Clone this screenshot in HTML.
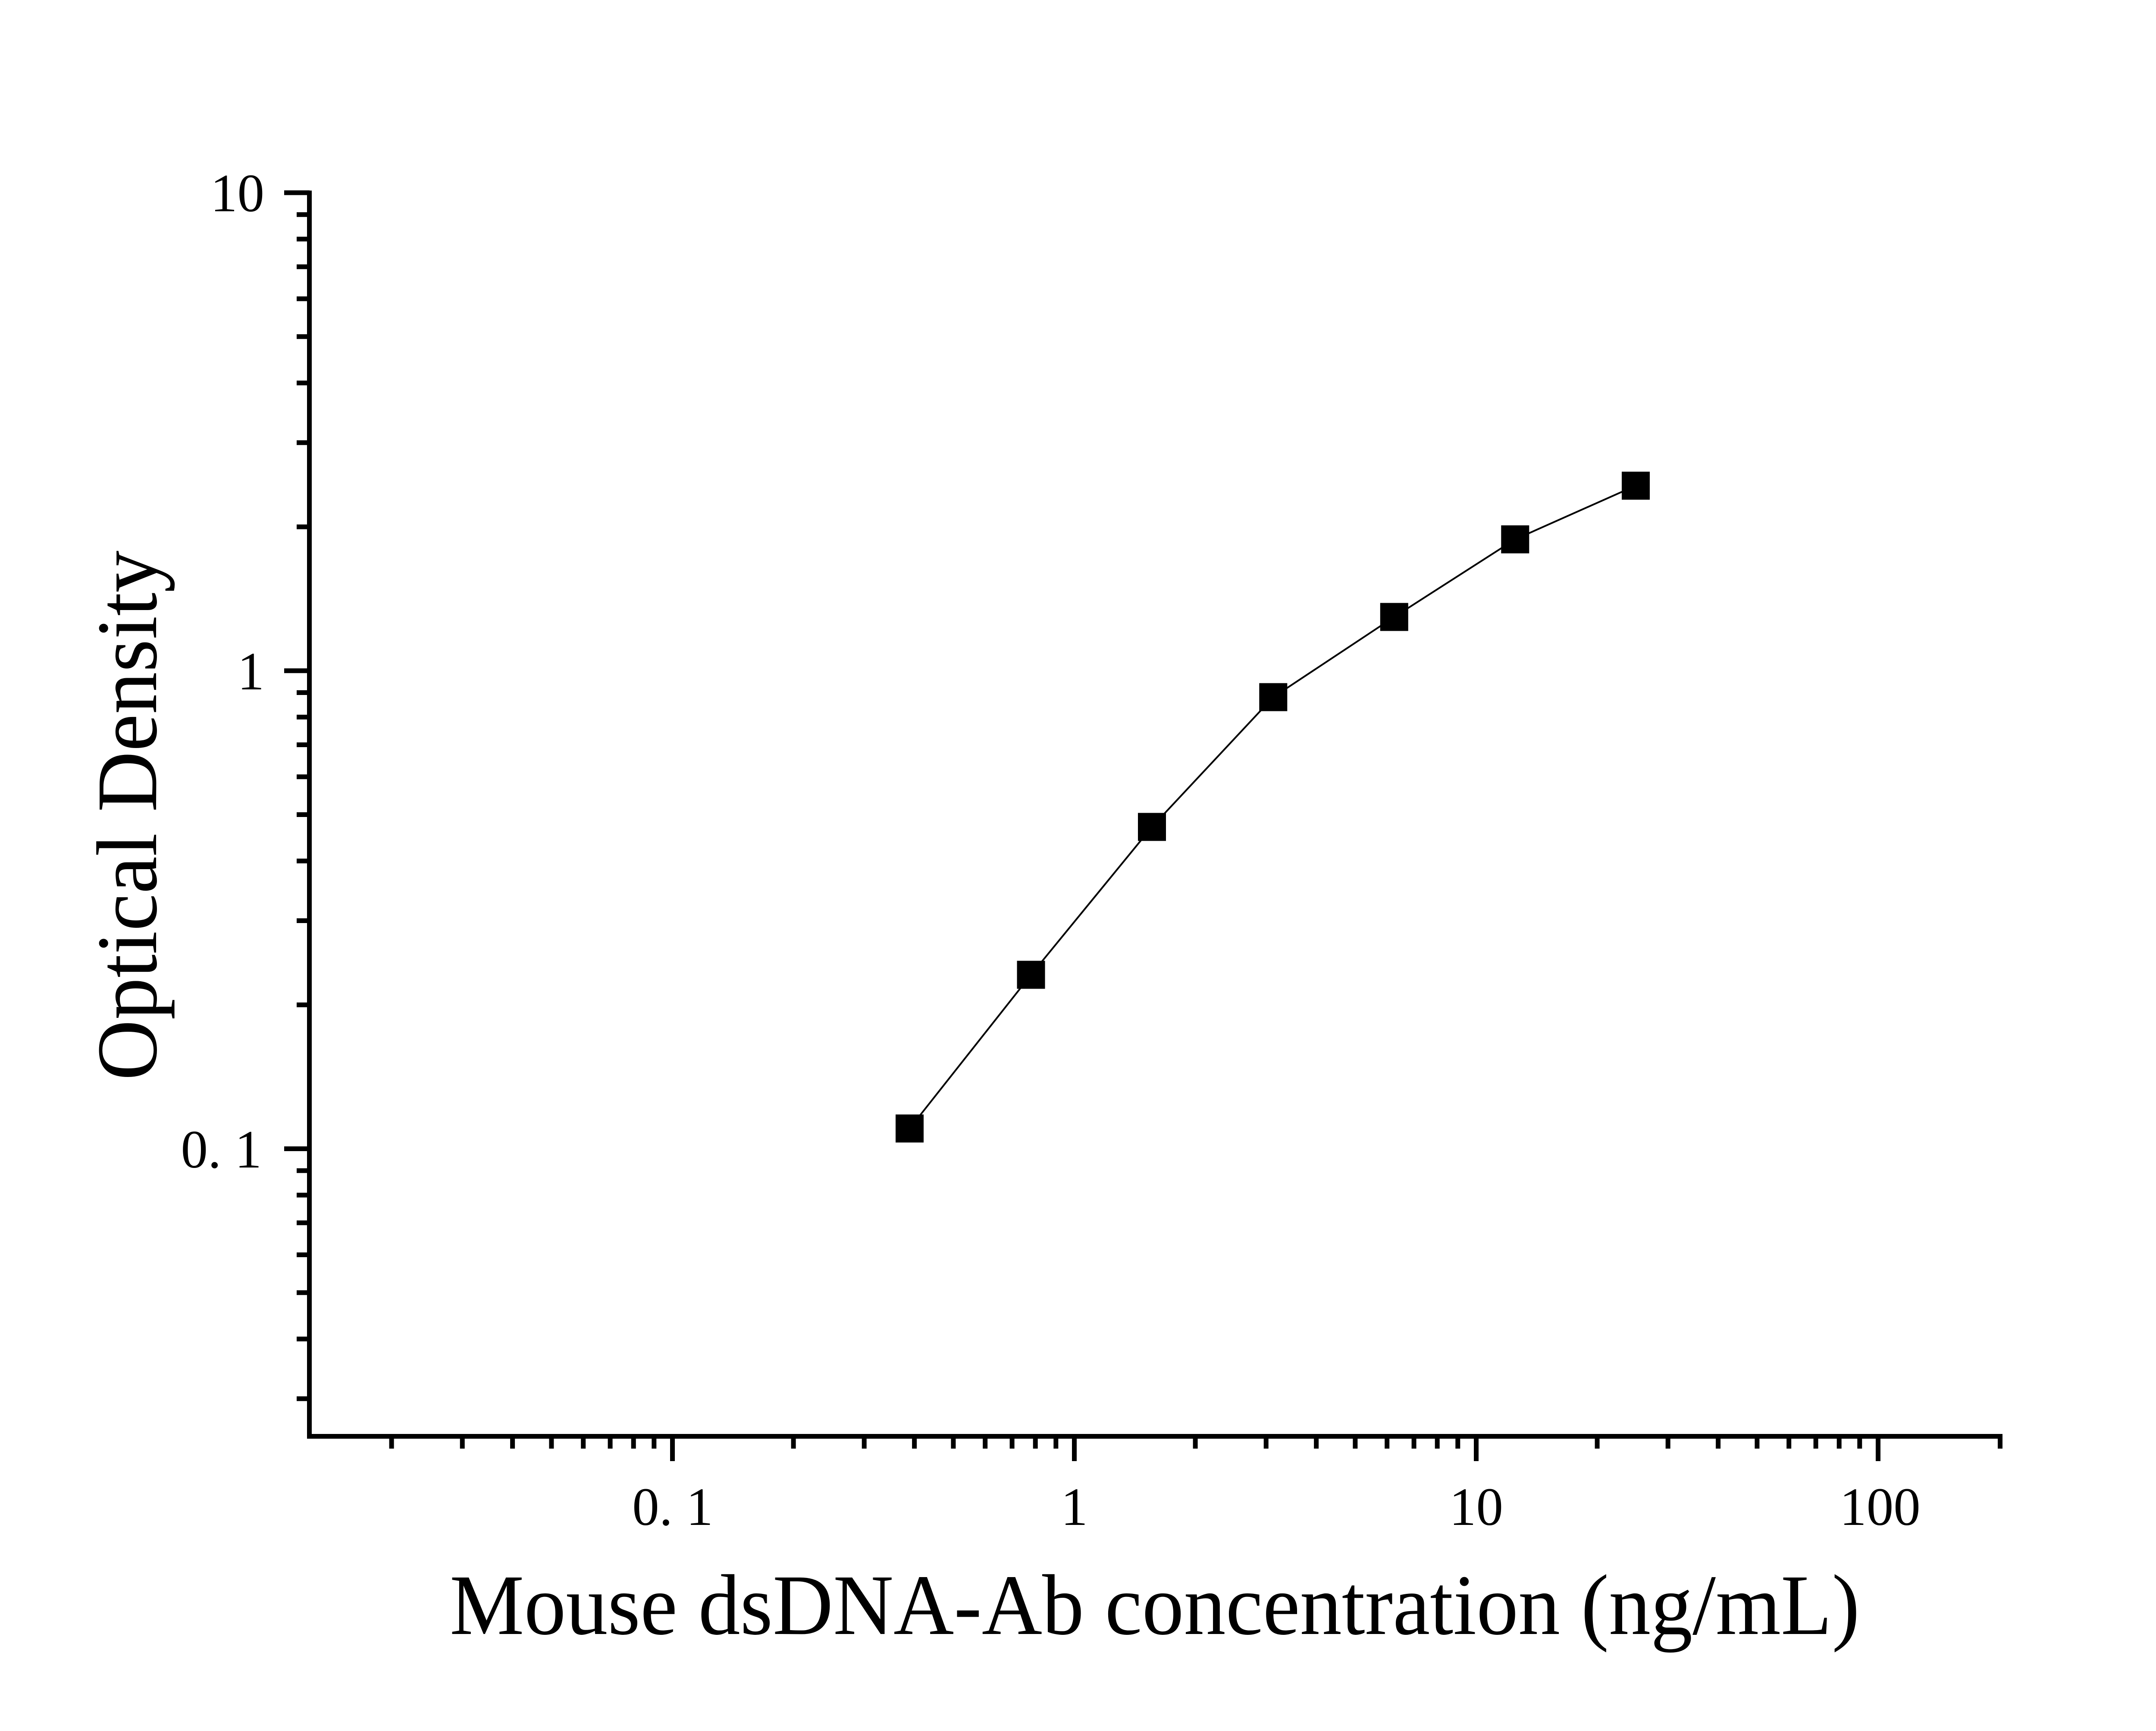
<!DOCTYPE html>
<html><head><meta charset="utf-8"><style>html,body{margin:0;padding:0;background:#fff}svg{display:block}</style></head>
<body>
<svg width="5130" height="4015" viewBox="0 0 5130 4015" xmlns="http://www.w3.org/2000/svg" font-family="'Liberation Serif', serif">
<rect width="5130" height="4015" fill="#fff"/>
<g stroke="#000" stroke-width="11" fill="none">
<path d="M908.1,3331V3360M1072.2,3331V3360M1188.6,3331V3360M1278.9,3331V3360M1352.7,3331V3360M1415.1,3331V3360M1469.2,3331V3360M1516.8,3331V3360
M1840.1,3331V3360M2004.2,3331V3360M2120.6,3331V3360M2210.9,3331V3360M2284.7,3331V3360M2347.1,3331V3360M2401.2,3331V3360M2448.8,3331V3360
M2772.1,3331V3360M2936.2,3331V3360M3052.6,3331V3360M3142.9,3331V3360M3216.7,3331V3360M3279.1,3331V3360M3333.2,3331V3360M3380.8,3331V3360
M3704.1,3331V3360M3868.2,3331V3360M3984.6,3331V3360M4074.9,3331V3360M4148.7,3331V3360M4211.1,3331V3360M4265.2,3331V3360M4312.8,3331V3360
M4638.5,3331V3360"/>
<path d="M1559.5,3331V3389M2491.5,3331V3389M3423.5,3331V3389M4355.5,3331V3389"/>
<path d="M688,3244.25H718M688,3105.75H718M688,2998.25H718M688,2910.45H718M688,2836.25H718M688,2771.95H718M688,2715.25H718
M688,2330.7H718M688,2135.5H718M688,1997H718M688,1889.5H718M688,1801.7H718M688,1727.5H718M688,1663.2H718M688,1606.5H718
M688,1221.95H718M688,1026.75H718M688,888.25H718M688,780.75H718M688,692.95H718M688,618.75H718M688,554.45H718M688,497.75H718"/>
<path d="M659,447H718M659,1555.75H718M659,2664.5H718"/>
</g>
<path d="M717.5,442 V3331.5 H4644" stroke="#000" stroke-width="11" fill="none" stroke-linejoin="miter"/>
<polyline points="2109.5,2617.5 2391,2261 2671.5,1918 2952.8,1617 3233.3,1431 3513.8,1251 3793.5,1126.5" fill="none" stroke="#000" stroke-width="4" stroke-linejoin="round"/>
<g fill="#000">
<rect x="2077" y="2585" width="65" height="65"/>
<rect x="2358.5" y="2228.5" width="65" height="65"/>
<rect x="2639" y="1885.5" width="65" height="65"/>
<rect x="2920.3" y="1584.5" width="65" height="65"/>
<rect x="3200.8" y="1398.5" width="65" height="65"/>
<rect x="3481.3" y="1218.5" width="65" height="65"/>
<rect x="3761" y="1094" width="65" height="65"/>
</g>
<g font-size="125" fill="#000">
<text x="613" y="490" text-anchor="end">10</text>
<text x="613" y="1599" text-anchor="end">1</text>
<text x="607" y="2708" text-anchor="end">0. 1</text>
<text x="1560" y="3537" text-anchor="middle">0. 1</text>
<text x="2491.5" y="3537" text-anchor="middle">1</text>
<text x="3423.5" y="3537" text-anchor="middle">10</text>
<text x="4360" y="3537" text-anchor="middle">100</text>
</g>
<text x="1043" y="3790" font-size="200" textLength="3270" lengthAdjust="spacingAndGlyphs">Mouse dsDNA-Ab concentration (ng/mL)</text>
<text transform="translate(362,2506) rotate(-90)" font-size="200" textLength="1229" lengthAdjust="spacingAndGlyphs">Optical Density</text>
</svg>
</body></html>
